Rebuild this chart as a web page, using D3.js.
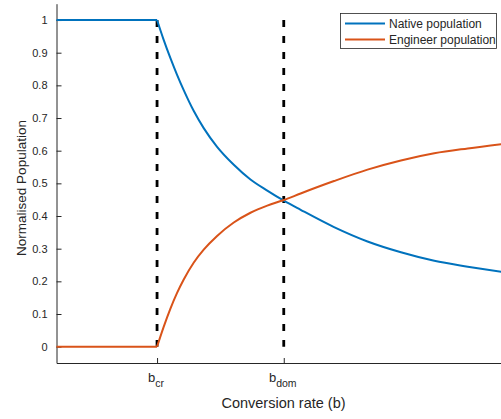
<!DOCTYPE html>
<html>
<head>
<meta charset="utf-8">
<script src="https://cdn.jsdelivr.net/npm/d3@7"></script>
<style>
  body { margin: 0; background: #fff; }
  svg text { font-family: "Liberation Sans", Arial, Helvetica, sans-serif; fill: #262626; }
</style>
</head>
<body>
<svg id="chart" width="501" height="419"></svg>
<script>
// values
const nativeB = [0, 1, 1.065, 1.132, 1.198, 1.264, 1.364, 1.464, 1.597, 1.763, 1.929, 2.096, 2.261, 2.428, 2.76, 3.093, 3.425, 3.757, 4.09, 4.422];
const nativePop = [1, 1, 0.94, 0.884, 0.833, 0.786, 0.722, 0.669, 0.612, 0.557, 0.512, 0.478, 0.447, 0.419, 0.366, 0.322, 0.289, 0.263, 0.245, 0.229];
const engB = [0, 1, 1.065, 1.132, 1.198, 1.264, 1.364, 1.464, 1.597, 1.763, 1.929, 2.096, 2.261, 2.428, 2.76, 3.093, 3.425, 3.757, 4.09, 4.422];
const engPop = [0, 0, 0.06, 0.116, 0.164, 0.205, 0.257, 0.297, 0.339, 0.38, 0.41, 0.432, 0.449, 0.469, 0.507, 0.542, 0.57, 0.592, 0.607, 0.62];
const markerB = [1, 2.26];
const markerSub = ["cr", "dom"];
const yTicks = [0, 0.1, 0.2, 0.3, 0.4, 0.5, 0.6, 0.7, 0.8, 0.9, 1];
const seriesNames = ["Native population", "Engineer population"];
const seriesColors = ["#0072BD", "#D95319"];

const svg = d3.select('#chart');
const plotLeft = 56.5, plotRight = 510, plotTop = 3.7, plotBottom = 363;

const x = d3.scaleLinear().domain([0, 4.51]).range([plotLeft, plotRight]);
const y = d3.scaleLinear().domain([-0.05, 1.05]).range([plotBottom, plotTop]);

const axisColor = '#262626';

// y axis (ticks point inward, MATLAB style)
const yAxis = svg.append('g').attr('transform', `translate(${plotLeft},0)`)
    .call(d3.axisLeft(y).tickValues(yTicks).tickSizeInner(-5).tickSizeOuter(0)
        .tickPadding(9).tickFormat(d => d === 0 || d === 1 ? d : d3.format('.1f')(d)));
yAxis.select('.domain').attr('stroke', axisColor);
yAxis.selectAll('.tick line').attr('stroke', axisColor);
yAxis.selectAll('.tick text').attr('font-size', 11).attr('fill', axisColor);

// x axis
const xAxis = svg.append('g').attr('transform', `translate(0,${plotBottom})`)
    .call(d3.axisBottom(x).tickValues(markerB).tickSizeInner(-5).tickSizeOuter(0).tickFormat(''));
xAxis.select('.domain').attr('stroke', axisColor);
xAxis.selectAll('.tick line').attr('stroke', axisColor);

markerB.forEach((b, i) => {
    const t = svg.append('text')
        .attr('x', x(b) - 1).attr('y', 381.5)
        .attr('text-anchor', 'middle')
        .attr('font-size', 13);
    t.append('tspan').text('b');
    t.append('tspan').attr('font-size', 10.5).attr('dy', 5.5).text(markerSub[i]);
});

// axis titles
svg.append('text')
    .attr('x', 283.5).attr('y', 408)
    .attr('text-anchor', 'middle').attr('font-size', 14.5)
    .text('Conversion rate (b)');
svg.append('text')
    .attr('transform', 'translate(26,188) rotate(-90)')
    .attr('text-anchor', 'middle').attr('font-size', 13.5)
    .text('Normalised Population');

// dashed markers
svg.selectAll('.marker').data(markerB).enter().append('line')
    .attr('class', 'marker')
    .attr('x1', d => x(d)).attr('x2', d => x(d))
    .attr('y1', y(1)).attr('y2', y(0))
    .attr('stroke', '#000').attr('stroke-width', 2.8)
    .attr('stroke-dasharray', '7,9');

// curves: flat part is straight, rest is smooth
function drawSeries(bs, vs, color) {
    const pts = bs.map((b, i) => [b, vs[i]]);
    const flat = pts.slice(0, 2);
    const curve = pts.slice(1);
    svg.append('path').datum(flat)
        .attr('d', d3.line().x(d => x(d[0])).y(d => y(d[1])))
        .attr('fill', 'none').attr('stroke', color).attr('stroke-width', 2);
    svg.append('path').datum(curve)
        .attr('d', d3.line().x(d => x(d[0])).y(d => y(d[1])).curve(d3.curveMonotoneX))
        .attr('fill', 'none').attr('stroke', color).attr('stroke-width', 2);
}
drawSeries(nativeB, nativePop, seriesColors[0]);
drawSeries(engB, engPop, seriesColors[1]);

// legend
const lg = svg.append('g');
lg.append('rect').attr('x', 340.5).attr('y', 13.5).attr('width', 156).attr('height', 35)
    .attr('fill', '#fff').attr('stroke', axisColor).attr('stroke-width', 0.8);
seriesNames.forEach((name, i) => {
    const ly = 23.5 + i * 16;
    lg.append('line').attr('x1', 345).attr('x2', 385).attr('y1', ly).attr('y2', ly)
        .attr('stroke', seriesColors[i]).attr('stroke-width', 2);
    lg.append('text').attr('x', 389).attr('y', ly + 4.5).attr('font-size', 12).attr('fill', '#000')
        .text(name);
});
</script>
</body>
</html>
